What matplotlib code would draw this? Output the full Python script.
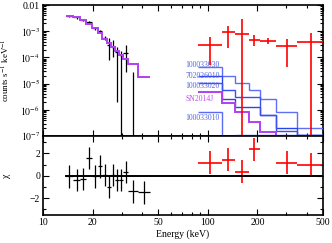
import numpy as np
import matplotlib
matplotlib.use("Agg")
import matplotlib.pyplot as plt
from matplotlib.ticker import FixedLocator, FixedFormatter, NullFormatter, LogLocator, MultipleLocator

plt.rcParams['font.family'] = ['Liberation Serif', 'DejaVu Serif']
plt.rcParams['mathtext.fontset'] = 'stix'

# black data (low energy), bin edges in keV
blk_lo = np.array([13.73, 15.21, 16.77, 18.31, 19.89, 21.42, 22.96, 24.45, 25.93, 27.5, 29.04, 30.58, 32.93, 37.87])
blk_hi = np.array([15.21, 16.77, 18.31, 19.89, 21.42, 22.96, 24.45, 25.93, 27.5, 29.04, 30.58, 32.93, 37.87, 44.6])
blk_y = np.array([3.9e-3, 3.35e-3, 2.6e-3, 2.3e-3, 1.27e-3, 1.0e-3, 5.5e-4, 3.0e-4, 2.6e-4, 1.65e-4, 1.2e-4, 1.44e-4, -4e-5, np.nan])
blk_ylo = np.array([3.6e-3, 3.05e-3, 2.35e-3, 2.05e-3, 1.1e-3, 8.5e-4, 4.5e-4, 8e-5, 1.0e-4, 2e-6, -1e-4, 2.85e-5, -1.1e-4, np.nan])
blk_yhi = np.array([4.2e-3, 3.65e-3, 2.85e-3, 2.55e-3, 1.45e-3, 1.15e-3, 6.5e-4, 5.4e-4, 4.5e-4, 2.56e-4, 1.8e-4, 2.97e-4, 2.85e-5, np.nan])
blk_chi = np.array([-0.06, -0.36, -0.3, 1.57, -0.06, 0.83, 0.09, -1.0, 0.09, -0.36, -0.36, 0.33, -1.39, -1.48])

# SN2014J model for the black data
mdl_lo = np.array([3.9e-3, 3.48e-3, 2.67e-3, 1.88e-3, 1.27e-3, 8.5e-4, 5.26e-4, 3.55e-4, 2.39e-4, 1.75e-4, 1.24e-4, 8.7e-5, 5.5e-5, 1.83e-5])

# red data (high energy)
red_edges = np.array([86.8, 121.4, 145.6, 178.6, 206.0, 259.3, 347.8, 514.0])
red_y = np.array([3.1e-4, 9.1e-4, 7.8e-4, 4.6e-4, 4.2e-4, 2.7e-4, 4.0e-4])
red_ylo = np.array([5.1e-5, 2.3e-4, -1e-3, 2.7e-4, 3.2e-4, 4.4e-5, -1e-3])
red_yhi = np.array([6.2e-4, 1.54e-3, 2.84e-3, 7.2e-4, 5.4e-4, 4.9e-4, 8.3e-4])
red_chi = np.array([1.18, 1.42, 0.38, 2.37, np.nan, 1.18, 0.98])

# model curves for the high-energy bins
obs_names = ['100033030', '702026010', '100033020', 'SN2014J', '100033010']
obs_label_y = [5.1e-5, 2.0e-5, 8.3e-6, 2.6e-6, 4.7e-7]
obs_models = [
    [4.2e-5, 1.95e-5, 1.08e-5, 5.7e-6, 2.5e-6, 8.5e-7, 2.0e-7],
    [2.0e-5, 2.5e-6, 1.3e-6, 1.3e-6, 6.3e-7, 2.0e-7, 1.05e-7],
    [1.08e-5, 5.7e-6, 3.0e-6, 3.0e-6, 6.3e-7, 1.5e-7, 1.08e-7],
    [4.9e-6, 1.87e-6, 8.45e-7, 3.5e-7, 1.46e-7, 5e-8, 5e-8],
    [8.45e-7, 5e-8, 1.08e-7, 1.08e-7, 1.08e-7, 1.08e-7, 1.08e-7],
]
obs_colors = ['#6070f4', '#2a44ee', '#3a50f0', '#b040f0', '#5a6af2']
label_colors = ['#5566e0', '#5566e0', '#5566e0', '#c050f0', '#5566e0']

ytick_vals = [1e-7, 1e-6, 1e-5, 1e-4, 1e-3, 1e-2]
ytick_labels = ['$10^{-7}$', '$10^{-6}$', '$10^{-5}$', '$10^{-4}$', '$10^{-3}$', '0.01']
xtick_vals = [10, 20, 50, 100, 200, 500]
xtick_labels = ['10', '20', '50', '100', '200', '500']

fig = plt.figure(figsize=(3.32, 2.43), dpi=100)
ax1 = fig.add_axes([0.1295, 0.4403, 0.8435, 0.5391])
ax2 = fig.add_axes([0.1295, 0.1152, 0.8435, 0.3251], sharex=ax1)

blk_e = np.sqrt(blk_lo * blk_hi)
red_e = np.sqrt(red_edges[:-1] * red_edges[1:])
blk_edges = np.append(blk_lo, blk_hi[-1])

# top panel
ax1.set_xscale('log')
ax1.set_yscale('log')
ax1.errorbar(blk_e, blk_y, xerr=[blk_e - blk_lo, blk_hi - blk_e],
             yerr=[blk_y - blk_ylo, blk_yhi - blk_y],
             fmt='none', ecolor='k', elinewidth=0.9, capsize=0, zorder=2)
ax1.stairs(mdl_lo, blk_edges, baseline=None, color='#b040f0', lw=1.4, zorder=3)

for name, ly, vals, c, lc in zip(obs_names, obs_label_y, obs_models, obs_colors, label_colors):
    ax1.stairs(vals, red_edges, baseline=None, color=c, lw=1.0 if c != '#b040f0' else 1.4, zorder=3)
    ax1.text(73, ly, name, color=lc, fontsize=5.6, va='center', ha='left', zorder=4)

ax1.errorbar(red_e, red_y, xerr=[red_e - red_edges[:-1], red_edges[1:] - red_e],
             yerr=[red_y - red_ylo, red_yhi - red_y],
             fmt='none', ecolor='red', elinewidth=1.2, capsize=0, zorder=5)

ax1.set_xlim(10, 500)
ax1.set_ylim(1e-7, 1e-2)
ax1.yaxis.set_major_locator(FixedLocator(ytick_vals))
ax1.yaxis.set_major_formatter(FixedFormatter(ytick_labels))
ax1.yaxis.set_minor_locator(LogLocator(base=10, subs=np.arange(2, 10)))
ax1.yaxis.set_minor_formatter(NullFormatter())
ax1.set_ylabel('counts s$^{-1}$ keV$^{-1}$', fontsize=6.5)
ax1.yaxis.set_label_coords(-0.11, 0.5)

# residual panel
ax2.errorbar(blk_e, blk_chi, xerr=[blk_e - blk_lo, blk_hi - blk_e], yerr=1.0,
             fmt='none', ecolor='k', elinewidth=0.9, capsize=0)
ax2.errorbar(red_e, red_chi, xerr=[red_e - red_edges[:-1], red_edges[1:] - red_e], yerr=1.03,
             fmt='none', ecolor='red', elinewidth=1.2, capsize=0)
ax2.plot([blk_lo[0], 500], [0, 0], color='k', lw=1.4)
ax2.set_ylim(-3.5, 3.55)
ax2.yaxis.set_major_locator(FixedLocator([-2, 0, 2]))
ax2.yaxis.set_minor_locator(MultipleLocator(1))
ax2.set_ylabel('χ', fontsize=7)
ax2.yaxis.set_label_coords(-0.115, 0.5)
ax2.xaxis.set_major_locator(FixedLocator(xtick_vals))
ax2.xaxis.set_major_formatter(FixedFormatter(xtick_labels))
ax2.xaxis.set_minor_locator(FixedLocator([30, 40, 60, 70, 80, 90, 300, 400]))
ax2.xaxis.set_minor_formatter(NullFormatter())
ax2.set_xlabel('Energy (keV)', fontsize=7, labelpad=2)

for ax in (ax1, ax2):
    ax.tick_params(which='both', direction='in', top=True, right=True, labelsize=7, width=0.8, pad=2)
    ax.tick_params(which='major', length=4)
    ax.tick_params(which='minor', length=2)
    for s in ax.spines.values():
        s.set_linewidth(1.2)
ax1.tick_params(labelbottom=False)

fig.savefig('out.png', dpi=100)
